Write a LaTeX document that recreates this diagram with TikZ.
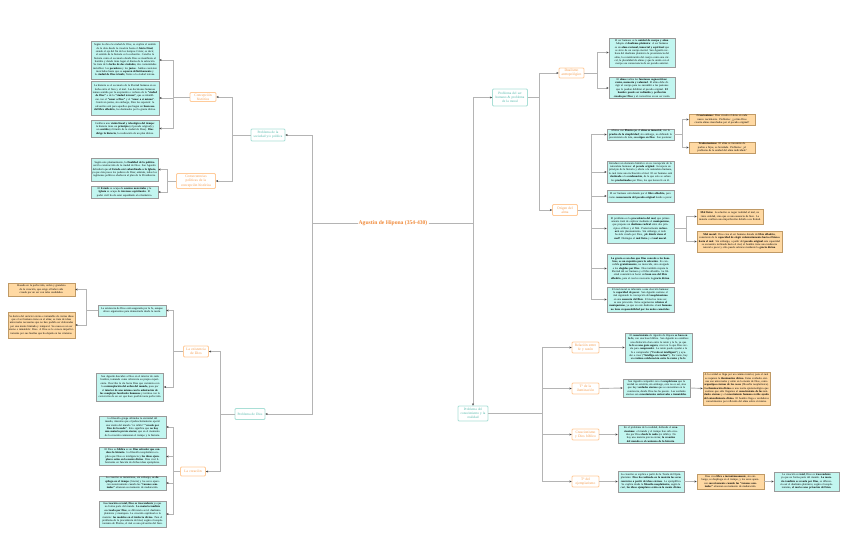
\documentclass[tikz,border=0pt]{standalone}
\usepackage{fontspec}
\setmainfont{Liberation Serif}
\usepackage{xcolor}
\definecolor{topicline}{HTML}{A9DFD6}
\definecolor{topictext}{HTML}{4DB6A8}
\definecolor{subline}{HTML}{FFCB9A}
\definecolor{subtext}{HTML}{F59A4A}
\definecolor{tealfill}{HTML}{C2F6F0}
\definecolor{orangefill}{HTML}{FFD9A3}
\definecolor{boxline}{HTML}{9A9A9A}
\definecolor{orangeline}{HTML}{C09A66}
\definecolor{linkgray}{HTML}{B4B4B4}
\definecolor{titleorange}{HTML}{F08A3A}
\usetikzlibrary{arrows.meta, positioning}

\begin{document}
\begin{tikzpicture}[
  x=1pt, y=-1pt,
  topic/.style={draw=topicline, fill=white, text=topictext, line width=0.8pt,
                rounded corners=1pt, align=center, inner sep=1pt,
                font=\fontsize{3.4}{4}\selectfont},
  sub/.style={draw=subline, fill=white, text=subtext, line width=0.8pt,
              rounded corners=1pt, align=center, inner sep=1pt,
              font=\fontsize{3.6}{4.2}\selectfont},
  tbox/.style={draw=boxline, fill=tealfill, line width=0.7pt, align=center,
               inner sep=1pt, font=\fontsize{2.75}{3.35}\selectfont},
  obox/.style={tbox, fill=orangefill, draw=orangeline},
  link/.style={draw=linkgray, line width=0.9pt,
               -{Stealth[length=2.2pt,width=2pt,black!75]}}
]
\useasboundingbox (0,0) rectangle (848,551);

% centre
\node[font=\bfseries\fontsize{5.6}{6.5}\selectfont, text=titleorange, fill=white, inner sep=1pt]
  (title) at (393,223) {Agustín de Hipona (354-430)};
\coordinate (lbus) at (312,223);
\coordinate (rbus) at (473,223);

% ---------- sociedad y politica
\node[topic, text width=32pt, minimum height=12pt] (soc) at (268,135) {Problema de la\\sociedad y/o política};
\node[sub, text width=24pt, minimum height=9pt] (hist) at (203,97) {Concepción\\histórica};
\node[sub, text width=37pt, minimum height=15pt] (cons) at (196,181) {Consecuencias\\políticas de la\\concepción histórica};

\node[tbox, text width=66pt, minimum height=38pt] (b1) at (125,60)
  {Según la obra \textit{La ciudad de Dios}, se explica el sentido de la obra desde la creación hasta el \textbf{Juicio Final}, siendo el eje del fin de los tiempos Cristo; es decir, el sentido de la historia es la salvación. Concibe la historia como el escenario donde Dios se manifiesta al hombre y donde tiene lugar el drama de la salvación. Se trata de la \textbf{lucha de dos ciudades}, dos comunidades invisibles: los \textbf{pecadores} y los \textbf{justos}. Ambas coexisten mezcladas hasta que se \textbf{separen definitivamente} y la \textbf{ciudad de Dios triunfe}, frente a la ciudad terrena.};
\node[tbox, text width=66pt, minimum height=34pt] (b2) at (125,98)
  {La historia es el escenario de la libertad humana en su lucha entre el bien y el mal. Las decisiones humanas toman sentido por la aceptación o rechazo de la \textbf{``ciudad de Dios''} o de la \textbf{``ciudad terrena''}, que se identifican con el \textbf{``amor a Dios''} y el \textbf{``amor a sí mismo''}. Conviven juntas, sin embargo, Dios las separará: la salvación será para aquellos que hagan un \textbf{buen uso del libre albedrío}, los destinados por la gracia divina.};
\node[tbox, text width=66pt, minimum height=17pt] (b3) at (125,128.5)
  {Conlleva una \textbf{visión lineal y teleológica del tiempo}: la historia tiene un \textbf{principio} (el pecado original) y un \textbf{sentido} (el triunfo de la ciudad de Dios). \textbf{Dios dirige la historia}, la realización de un plan divino.};
\node[tbox, text width=65pt, minimum height=23pt] (b4) at (124.5,169.5)
  {Según este planteamiento, la \textbf{finalidad de la política} será la construcción de la ciudad de Dios. San Agustín defenderá que \textbf{el Estado esté subordinado a la Iglesia}, ya que ésta posee los poderes de Dios; además, todos los regímenes políticos obedecen al plan de la Providencia.};
\node[tbox, text width=65pt, minimum height=12pt] (b5) at (124.5,192)
  {El \textbf{Estado} se ocupa de \textbf{asuntos materiales} y la \textbf{Iglesia} se ocupa de \textbf{intereses espirituales}. El poder civil ha de estar supeditado al eclesiástico.};

% ---------- Dios
\node[topic, text width=28pt, minimum height=11pt] (dios) at (250,414) {Problema de Dios};
\node[sub, text width=23pt, minimum height=11pt] (exis) at (196,351.5) {La existencia\\de Dios};
\node[sub, text width=23pt, minimum height=9pt] (crea) at (193,471.5) {La creación};

\node[tbox, text width=66pt, minimum height=11pt] (e1) at (132,310.5)
  {La existencia de Dios está asegurada por la fe, aunque ofrece argumentos para demostrarla desde la razón.};
\node[obox, text width=65pt, minimum height=13pt] (fa) at (41.5,289.5)
  {Basado en la perfección, orden y grandeza de la creación, que exige el haber sido creada por un ser con tales cualidades.};
\node[obox, text width=65pt, minimum height=26pt] (fb) at (41.5,325)
  {Se deriva del carácter eterno e inmutable de ciertas ideas que el ser humano tiene en el alma; se trata de ideas universales necesarias que no han podido ser elaboradas por una mente limitada y temporal. Su causa es un ser eterno e inmutable: Dios. A Dios se le conoce imperfectamente por sus huellas que ha dejado en las criaturas.};
\node[tbox, text width=65pt, minimum height=28pt] (e2) at (130,387)
  {San Agustín descubre a Dios en el interior de cada hombre, tomando como referencia su propia experiencia. Describe la vía hacia Dios que comienza con la \textbf{contemplación del orden del mundo}, pasa por el \textbf{interior de uno mismo con la admiración de las complejas facultades humanas} y termina con la convicción de un ser que hace posible tanta perfección.};

\node[tbox, text width=65pt, minimum height=22pt] (c1) at (132.5,427)
  {La filosofía griega afirmaba la eternidad del mundo, mientras que el judeocristianismo aportó una visión del mundo ``ex nihilo'' \textbf{``creado por Dios de la nada''}. Esto significa que \textbf{no hay una materia previa eterna}; que en el momento de la creación comienzan el tiempo y la historia.};
\node[tbox, text width=65pt, minimum height=17pt] (c2) at (132.5,456.5)
  {El Dios es \textbf{bíblico} es un \textbf{Dios salvador que conduce la historia}. La filosofía neoplatónica explica que Dios es inteligencia y \textbf{las ideas ejemplares están en la mente divina}. Dios creó libremente en función de dichas ideas ejemplares.};
\node[tbox, text width=65pt, minimum height=14pt] (c3) at (132.5,483)
  {La creación es instantánea, sin embargo, \textbf{se despliega en el tiempo} (Gracia) y los seres aparecen sucesivamente cuando las \textbf{``razones seminales''} alcanzan su momento de maduración.};
\node[tbox, text width=65pt, minimum height=26pt] (c4) at (132.5,514)
  {\textbf{La creación es total, Dios es trascendente} ya que no forma parte del mundo. \textbf{La materia también es creada por Dios}, se diferencia así el dualismo platónico y maniqueo. La creación espiritual es la materia: \textbf{los modelos en el intelecto divino}. Para el problema de la procedencia del mal, según el neoplatonismo de Plotino, el mal es una privación del bien.};

% ---------- ser humano y moral
\node[topic, text width=33pt, minimum height=17pt] (ser) at (510,97.5) {Problema del ser\\humano \& problema\\de la moral};
\node[sub, text width=23pt, minimum height=10pt] (dual) at (571.5,73) {Dualismo\\antropológico};
\node[sub, text width=23pt, minimum height=11pt] (orig) at (565,210) {Origen del\\alma};

\node[tbox, text width=64pt, minimum height=29pt] (r1) at (642,52.5)
  {El ser humano es la \textbf{unidad de cuerpo y alma}. Adopta el \textbf{dualismo platónico}: el ser humano es un \textbf{alma racional, inmortal y espiritual} que se sirve de un cuerpo mortal. San Agustín rechaza del dualismo platónico la preexistencia del alma, la consideración del cuerpo como una cárcel, la pluralidad de almas y que la unión con el cuerpo sea consecuencia de un pecado anterior.};
\node[tbox, text width=64pt, minimum height=18pt] (r2) at (642,88)
  {El \textbf{alma} realiza las \textbf{funciones cognoscitivas: razón, memoria y voluntad}. El alma debe dirigir al cuerpo para no sucumbir a las pasiones que le puedan debilitar al pecado original. \textbf{El hombre puede ser redimido y perfección creada por Dios} y al convertirse en un ser razón.};
\node[tbox, text width=65pt, minimum height=11pt] (r3) at (640.5,134.5)
  {Afirma con \textbf{Platón} que el \textbf{alma es inmortal}, con la \textbf{prueba de la simplicidad}; sin embargo, no defiende la preexistencia de ésta, \textbf{su origen en Dios}. Son posturas:};
\node[obox, text width=64pt, minimum height=11pt] (o1) at (722,119.5)
  {\textbf{Creacionismo:} Dios crearía el alma en cada nuevo nacimiento. Problema: ¿¿cómo Dios crearía almas manchadas por el pecado original?};
\node[obox, text width=64pt, minimum height=11pt] (o2) at (722,147.5)
  {\textbf{Traducianismo:} El alma se transmite de padres a hijos, es heredada. Problema: ¿el problema de la unidad del alma individual?};
\node[tbox, text width=65pt, minimum height=22pt] (r4) at (640.5,172)
  {Introduce un elemento histórico en su concepción de la naturaleza humana: \textbf{el pecado original}. Incorpora un principio de la historia y afecta a la naturaleza humana, la cual tiene una inclinación al mal. El ser humano está \textbf{destinado} a la \textbf{condenación}, de la que solo se salvan los \textbf{predestinados} por Dios, los que tienen fe en él.};
\node[tbox, text width=65pt, minimum height=12pt] (r5) at (640.5,196)
  {El ser humano está dotado por el \textbf{libre albedrío}, pero como \textbf{consecuencia del pecado original} tiende a pecar.};
\node[tbox, text width=65pt, minimum height=29pt] (r6) at (640.5,228.5)
  {El problema es la \textbf{procedencia del mal}, que primeramente trató de explicar mediante el \textbf{maniqueísmo}, que propone un \textbf{dualismo radical} entre dos principios el Bien y el Mal. Posteriormente \textbf{rechazará} este planteamiento. Sin embargo, si todo ha sido creado por Dios, \textbf{¿de dónde viene el mal?} Distingue el \textbf{mal físico} y el \textbf{mal moral}.};
\node[obox, text width=64pt, minimum height=15pt] (o3) at (730,216.5)
  {\textbf{Mal físico:} la solución es negar realidad al mal, no tiene entidad, sino que es una ausencia de bien. La materia conlleva una imperfección debido a su finitud.};
\node[obox, text width=83pt, minimum height=21pt] (o4) at (739.5,241.5)
  {\textbf{Mal moral:} Dios crea al ser humano dotado de \textbf{libre albedrío}, consciente de la \textbf{capacidad de elegir voluntariamente hacia el bien o hacia el mal}. Sin embargo, a partir del \textbf{pecado original} esta capacidad se encuentra inclinada hacia el mal, el hombre tiene una tendencia natural a pecar y sólo puede salvarse mediante la \textbf{gracia divina}.};
\node[tbox, text width=65pt, minimum height=29pt] (r7) at (640.5,268.5)
  {\textbf{La gracia es un don que Dios concede a los hombres, es un requisito para la salvación}. Es concedida \textbf{gratuitamente}, no merecida, sino otorgada a los \textbf{elegidos por Dios}. Dios también respeta la libertad del ser humano y el libre albedrío. La libertad consistirá en hacer un \textbf{buen uso del libre albedrío}, para el cual es necesaria la \textbf{gracia divina}.};
\node[tbox, text width=65pt, minimum height=25pt] (r8) at (640.5,299.5)
  {El mal moral es inherente a una elección humana: la \textbf{capacidad de pecar}. San Agustín sostiene el mal siguiendo la concepción del \textbf{neoplatonismo} en una \textbf{ausencia del Bien}. El mal no tiene ser, es una privación. Estos argumentos \textbf{rebaten el maniqueísmo}, ya que en este dualismo el \textbf{ser humano no tiene responsabilidad por los males cometidos}.};

% ---------- conocimiento y realidad
\node[topic, text width=28pt, minimum height=15pt] (con) at (473,413.5) {Problema del\\conocimiento y la\\realidad};
\node[sub, text width=25pt, minimum height=11pt] (fe) at (585.5,347.5) {Relación entre\\fe y razón};
\node[sub, text width=25pt, minimum height=11pt] (ilu) at (585.5,388.5) {Tª de la\\iluminación};
\node[sub, text width=25pt, minimum height=11pt] (crd) at (585.5,434.5) {Creacionismo\\y Dios bíblico};
\node[sub, text width=25pt, minimum height=11pt] (ejm) at (585.5,481.5) {Tª del\\ejemplarismo};

\node[tbox, text width=65pt, minimum height=29pt] (r9) at (658.5,347.5)
  {El \textbf{conocimiento} de Agustín de Hipona \textbf{se basa en la fe}, con una base bíblica. San Agustín no establece una distinción clara entre la razón y la fe, ya que \textbf{la fe es una guía segura}, creer en lo que Dios revela para \textbf{comprender}. La razón puede ayudar a la fe a comprender (\textbf{``Credo ut intelligam''}) y ayudar a creer (\textbf{``Intelligo ut credam''}). Por tanto, hay una \textbf{íntima colaboración entre la razón y la fe}.};
\node[tbox, text width=65pt, minimum height=18pt] (r10) at (656.5,388)
  {San Agustín compartió con el \textbf{escepticismo} que la verdad no existiría, sin embargo, esto no es así, sino que hay \textbf{verdades eternas} que se encuentran en la conciencia, donde Dios las ha puesto. Las verdades eternas son \textbf{conocimientos universales e inmutables}.};
\node[obox, text width=65pt, minimum height=33pt] (r11) at (736.5,388.5)
  {A la verdad se llega por un camino interior, para el cual se requiere la \textbf{iluminación divina}. Estas verdades eternas son universales y están en la mente de Dios, como \textbf{arquetipos eternos de las cosas} (filosofía neoplatónica). \textbf{La iluminación divina} es una teoría epistemológica que sostiene que sólo llegamos al \textbf{conocimiento de las verdades eternas} y el \textbf{conocimiento humano recibe ayuda del entendimiento divino}. El hombre llega a verdaderos conocimientos por reflexión del alma sobre sí mismo.};
\node[tbox, text width=64pt, minimum height=17pt] (r12) at (651,434.5)
  {En el problema de la realidad, defiende el \textbf{creacionismo}: el mundo y el tiempo han sido creados por Dios \textbf{desde la nada} (ex nihilo). No hay una materia previa eterna; \textbf{la creación del mundo es el comienzo de la historia}.};
\node[tbox, text width=64pt, minimum height=21pt] (r13) at (651,481.5)
  {La creación se explica a partir de la Teoría del Ejemplarismo: \textbf{Dios ha realizado en la materia los seres concretos a partir de ideas eternas}. Lo ejemplifica. Se explica desde la \textbf{filosofía neoplatónica}, según la cual, \textbf{las ideas ejemplares están en la mente divina}.};
\node[obox, text width=65pt, minimum height=15pt] (r14) at (730.5,481.5)
  {Dios crea \textbf{libre e instantáneamente}, sin embargo, se despliega en el tiempo, y los seres aparecen \textbf{sucesivamente cuando las ``razones seminales''} alcanzan su momento de maduración.};
\node[tbox, text width=63pt, minimum height=19pt] (r15) at (806.5,481.5)
  {La creación es \textbf{total}, Dios es \textbf{trascendente} ya que no forma parte del mundo. \textbf{La materia también es creada por Dios}, se diferencia así el dualismo platónico; según el neoplatonismo, \textbf{el mal es una privación del bien}.};

% ---------- connectors
\draw[link] (title.west) -- (lbus) |- (soc.east);
\draw[link] (title.west) -- (lbus) |- (dios.east);
\draw[link] (title.east) -- (rbus) |- (ser.west);
\draw[link] (title.east) -- (rbus) -- (con.north);

\draw[link] (soc.west) -- ++(-18,0) |- (hist.east);
\draw[link] (soc.west) -- ++(-18,0) |- (cons.east);
\foreach \n in {b1,b2,b3}
  \draw[link] (hist.west) -- ++(-16,0) |- (\n.east);
\foreach \n in {b4,b5}
  \draw[link] (cons.west) -- ++(-9,0) |- (\n.east);

\draw[link] (dios.west) -- ++(-14,0) |- (exis.east);
\draw[link] (dios.west) -- ++(-14,0) |- (crea.east);
\foreach \n in {e1,e2}
  \draw[link] (exis.west) -- ++(-10,0) |- (\n.east);
\foreach \n in {fa,fb}
  \draw[link] (e1.west) -- ++(-11,0) |- (\n.east);
\foreach \n in {c1,c2,c3,c4}
  \draw[link] (crea.west) -- ++(-7,0) |- (\n.east);

\draw[link] (ser.east) -- ++(12,0) |- (dual.west);
\draw[link] (ser.east) -- ++(12,0) |- (orig.west);
\foreach \n in {r1,r2}
  \draw[link] (dual.east) -- ++(13,0) |- (\n.west);
\foreach \n in {r3,r4,r5,r6,r7,r8}
  \draw[link] (orig.east) -- ++(14,0) |- (\n.west);
\foreach \n in {o1,o2}
  \draw[link] (r3.east) -- ++(8,0) |- (\n.west);
\foreach \n in {o3,o4}
  \draw[link] (r6.east) -- ++(12,0) |- (\n.west);

\foreach \n in {fe,ilu,crd,ejm}
  \draw[link] (con.east) -- ++(54,0) |- (\n.west);
\draw[link] (fe.east) -- (r9.west);
\draw[link] (ilu.east) -- (r10.west);
\draw[link] (r10.east) -- (r11.west);
\draw[link] (crd.east) -- (r12.west);
\draw[link] (ejm.east) -- (r13.west);
\draw[link] (r13.east) -- (r14.west);
\draw[link] (r14.east) -- (r15.west);

\end{tikzpicture}
\end{document}
